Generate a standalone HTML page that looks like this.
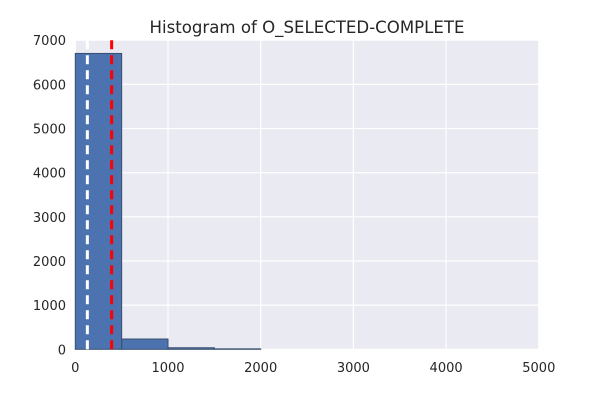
<!DOCTYPE html>
<html><head><meta charset="utf-8"><style>
body{margin:0;background:#fff;width:600px;height:400px;overflow:hidden;font-family:"DejaVu Sans","Liberation Sans",sans-serif}
</style></head><body>
<svg width="600" height="400" xmlns="http://www.w3.org/2000/svg" font-family="DejaVu Sans, Liberation Sans, sans-serif">
<rect x="75.3" y="40.2" width="463.5" height="309.1" fill="#eaeaf2"/>
<g id="grid"></g><g id="bars"></g><g id="lines"></g><g id="ticks"></g>
<text x="307" y="33" text-anchor="middle" font-size="16.6" fill="#262626">Histogram of O_SELECTED-COMPLETE</text>
</svg>
<script>
const binStarts=[0,500,1000,1500,2000,2500,3000,3500,4000,4500];
const counts=[6700,233,35,10,0,0,0,0,0,0];
const binWidth=500;
const xTicks=[0,1000,2000,3000,4000,5000];
const yTicks=[0,1000,2000,3000,4000,5000,6000,7000];
const medianVal=130;
const meanVal=392;
const X0=75.3,X1=538.8,Y0=349.3,Y1=40.2;
const xs=v=>X0+v/5000*(X1-X0);
const ys=v=>Y0-v/7000*(Y0-Y1);
const NS="http://www.w3.org/2000/svg";
function mk(t,a,p){const e=document.createElementNS(NS,t);for(const k in a)e.setAttribute(k,a[k]);document.getElementById(p).appendChild(e);return e;}
xTicks.forEach(v=>{
 const l=mk('line',{x1:xs(v),x2:xs(v),y1:Y1,y2:Y0,stroke:'#fff','stroke-width':1.2},'grid');
 
 
 const t=mk('text',{x:xs(v),y:372,'text-anchor':'middle','font-size':13,fill:'#262626'},'ticks');t.textContent=v;
 
 
});
yTicks.forEach(v=>{
 const l=mk('line',{x1:X0,x2:X1,y1:ys(v),y2:ys(v),stroke:'#fff','stroke-width':1.2},'grid');
 
 
 const t=mk('text',{x:66,y:ys(v)+5,'text-anchor':'end','font-size':13,fill:'#262626'},'ticks');t.textContent=v;
 
 
});
binStarts.forEach((b,i)=>{
 if(counts[i]<=0)return;
 const r=mk('rect',{x:xs(b),y:ys(counts[i]),width:xs(b+binWidth)-xs(b),height:Y0-ys(counts[i]),fill:'#4c72b0',stroke:'#3a4f6e','stroke-width':1},'bars');
 
 
});
const m=mk('line',{x1:xs(medianVal),x2:xs(medianVal),y1:Y1,y2:Y0,stroke:'#fff','stroke-width':3,'stroke-dasharray':'9 6'},'lines');


const mn=mk('line',{x1:xs(meanVal),x2:xs(meanVal),y1:Y1,y2:Y0,stroke:'#ff0000','stroke-width':3,'stroke-dasharray':'9 6'},'lines');


</script>
</body></html>
